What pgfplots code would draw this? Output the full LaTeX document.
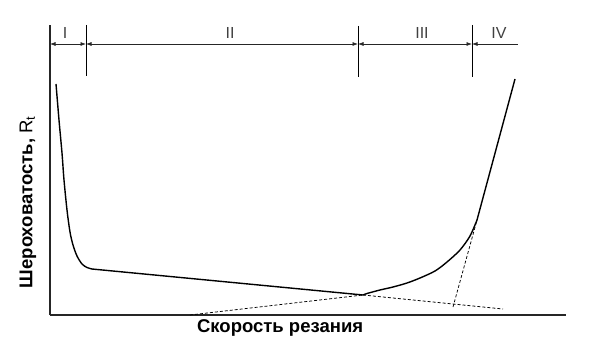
\documentclass[border=0pt]{standalone}
\usepackage{fontspec}
\setmainfont{Liberation Sans}
\usepackage{pgfplots}
\pgfplotsset{compat=1.18}
\usetikzlibrary{arrows.meta}
\begin{document}
\begin{tikzpicture}
\useasboundingbox (0,0) rectangle (600pt,346pt);
\begin{axis}[
  at={(50pt,31pt)}, anchor=south west,
  scale only axis, width=516pt, height=290pt,
  xmin=50, xmax=566, ymin=31, ymax=321,
  axis x line=bottom, axis y line=left,
  axis line style={-, line width=1.2pt, black!85},
  xtick=\empty, ytick=\empty,
  clip=false,
  xlabel={\fontsize{18.5}{21}\selectfont\bfseries Скорость резания},
  ylabel={\fontsize{18.5}{21}\selectfont\bfseries Шероховатость, \mdseries R\textsubscript{t}},
  every axis x label/.style={at={(axis description cs:0.446,-0.045)}, anchor=center},
  every axis y label/.style={at={(axis description cs:-0.043,0.389)}, anchor=center, rotate=90},
]
% solid curve: steep initial drop
\addplot[black, line width=1.4pt, smooth] coordinates {
(56,262) (59,226) (62,193) (64,166) (67,136) (70,114) (73,101) (77,90) (82,82) (87,78.5) (92,77)
};
% straight section II
\addplot[black, line width=1.4pt] coordinates {(92,77) (363,51)};
% rising curve III
\addplot[black, line width=1.4pt, smooth] coordinates {
(363,51) (367,52.5) (380,56) (393,59) (407,63) (420,68) (435,75) (447,84) (460,96) (470,110) (477,126)
};
% straight section IV
\addplot[black, line width=1.4pt] coordinates {(477,126) (515,267)};
% dashed construction lines
\addplot[black, line width=0.75pt, dash pattern=on 3pt off 2pt] coordinates {(190,31) (363,51)};
\addplot[black, line width=0.75pt, dash pattern=on 3pt off 2pt] coordinates {(363,51) (503,37)};
\addplot[black, line width=0.75pt, dash pattern=on 3pt off 2pt] coordinates {(453,39) (477,126)};
% zone boundaries
\draw[black, line width=1pt] (axis cs:86,321) -- (axis cs:86,270);
\draw[black, line width=1pt] (axis cs:358,320) -- (axis cs:358,269);
\draw[black, line width=1pt] (axis cs:472,321) -- (axis cs:472,269);
\draw[black!85, line width=0.7pt, {Latex[length=5.5pt,width=4pt]}-{Latex[length=5.5pt,width=4pt]}] (axis cs:50,302) -- (axis cs:86,302);
\draw[black!85, line width=0.7pt, {Latex[length=5.5pt,width=4pt]}-{Latex[length=5.5pt,width=4pt]}] (axis cs:86,302) -- (axis cs:358,302);
\draw[black!85, line width=0.7pt, {Latex[length=5.5pt,width=4pt]}-{Latex[length=5.5pt,width=4pt]}] (axis cs:358,302) -- (axis cs:472,302);
\draw[black!85, line width=0.7pt, {Latex[length=5.5pt,width=4pt]}-] (axis cs:472,302) -- (axis cs:518,302);
\node[text=black!75, font=\fontsize{16}{18}\selectfont] at (axis cs:65,313.5) {I};
\node[text=black!75, font=\fontsize{16}{18}\selectfont] at (axis cs:230,313.5) {II};
\node[text=black!75, font=\fontsize{16}{18}\selectfont] at (axis cs:422,313.5) {III};
\node[text=black!75, font=\fontsize{16}{18}\selectfont] at (axis cs:499,313.5) {IV};
\end{axis}
\end{tikzpicture}
\end{document}
